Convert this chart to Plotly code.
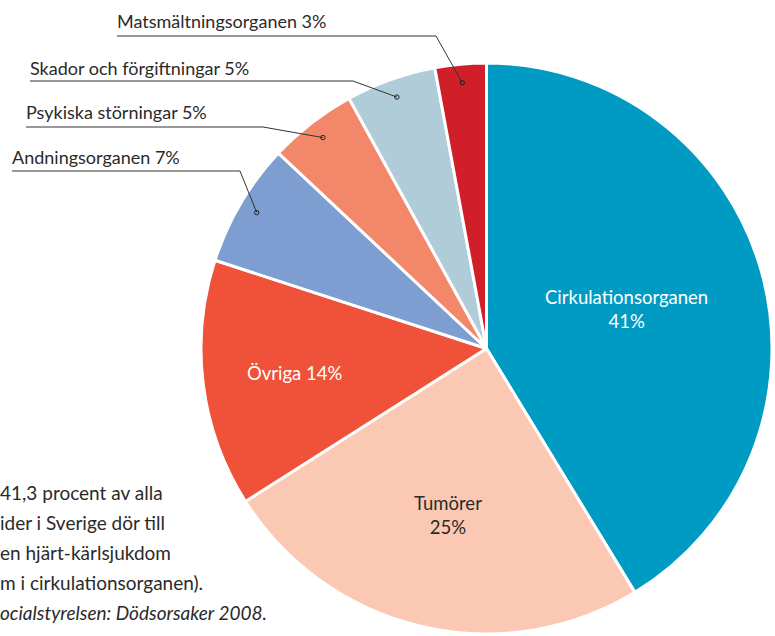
import numpy as np
import plotly.graph_objects as go

# ---- data ----
labels = ["Cirkulationsorganen", "Tumörer", "Övriga", "Andningsorganen",
          "Psykiska störningar", "Skador och förgiftningar", "Matsmältningsorganen"]
values = [41.3, 24.7, 14.0, 7.0, 5.0, 5.1, 2.9]
pct_labels = ["41%", "25%", "14%", "7%", "5%", "5%", "3%"]
colors = ["#009BC3", "#FBC8B3", "#EF5139", "#7E9DD0", "#F38769", "#B0CCD8", "#D01F29"]
# the note is cropped by the left edge in the reference; only the visible part is kept
note_lines = ["41,3 procent av alla",
              "ider i Sverige dör till",
              "en hjärt-kärlsjukdom",
              "m i cirkulationsorganen)."]
source_line = "ocialstyrelsen: Dödsorsaker 2008."

# ---- layout geometry ----
W, H = 775, 636
L, T, R, B = 201, 63, 3, 2
PW, PH = W - L - R, H - T - B
cx, cy = L + PW / 2, T + PH / 2
rad = min(PW, PH) / 2
FONT = "Lato"
DARK = "#2a2a2a"


def px(x):
    return (x - L) / PW


def py(y):
    return 1 - (y - T) / PH


tot = float(np.sum(values))
cum = np.concatenate([[0], np.cumsum(values)[:-1]])
mid = 2 * np.pi * (cum + np.array(values) / 2) / tot


def slice_point(i, frac):
    return cx + frac * rad * np.sin(mid[i]), cy - frac * rad * np.cos(mid[i])


fig = go.Figure(go.Pie(
    labels=labels, values=values, sort=False, direction="clockwise", rotation=0,
    marker=dict(colors=colors, line=dict(color="white", width=3)),
    textinfo="none", hoverinfo="label+percent", showlegend=False,
))

annotations = []
shapes = []

# inside labels
inside = [(0, 0.51, "white", "Cirkulationsorganen<br>41%"),
          (1, 0.60, DARK, "Tumörer<br>25%"),
          (2, 0.675, "white", "Övriga 14%")]
for i, frac, col, txt in inside:
    x, y = slice_point(i, frac)
    annotations.append(dict(x=px(x), y=py(y), xref="paper", yref="paper", text=txt,
                            showarrow=False, font=dict(family=FONT, size=18.5, color=col),
                            xanchor="center", yanchor="middle", align="center"))

# outside labels with leader lines: (slice index, text left, text y, underline y, knee x)
outside = [(6, 117, 21, 36, 436),
           (5, 30, 68, 81, 353),
           (4, 26, 112, 127, 263),
           (3, 12, 157, 171, 240)]
for i, tx, ty, uy, kx in outside:
    annotations.append(dict(x=px(tx - 2), y=py(ty), xref="paper", yref="paper",
                            text=f"{labels[i]} {pct_labels[i]}", showarrow=False,
                            font=dict(family=FONT, size=18, color=DARK),
                            xanchor="left", yanchor="middle"))
    dx, dy = slice_point(i, 0.935)
    shapes.append(dict(type="path", xref="paper", yref="paper",
                       path=f"M {px(tx)} {py(uy)} L {px(kx)} {py(uy)} L {px(dx)} {py(dy)}",
                       line=dict(color="#333333", width=1)))
    r = 2.2
    shapes.append(dict(type="circle", xref="paper", yref="paper",
                       x0=px(dx - r), x1=px(dx + r), y0=py(dy - r), y1=py(dy + r),
                       line=dict(color="#222222", width=1), fillcolor="rgba(0,0,0,0)"))

# bottom note, flush left against the edge
for k, line in enumerate(note_lines + [source_line]):
    txt = f"<i>{line}</i>" if k == len(note_lines) else line
    annotations.append(dict(x=px(-2), y=py(492 + 30 * k), xref="paper", yref="paper",
                            text=txt, showarrow=False,
                            font=dict(family=FONT, size=19, color=DARK),
                            xanchor="left", yanchor="middle"))

fig.update_layout(
    width=W, height=H, margin=dict(l=L, r=R, t=T, b=B),
    paper_bgcolor="white", plot_bgcolor="white",
    annotations=annotations, shapes=shapes,
)

fig.write_html("out.html", config={"displayModeBar": False},
               post_script="document.body.style.margin='0';")
